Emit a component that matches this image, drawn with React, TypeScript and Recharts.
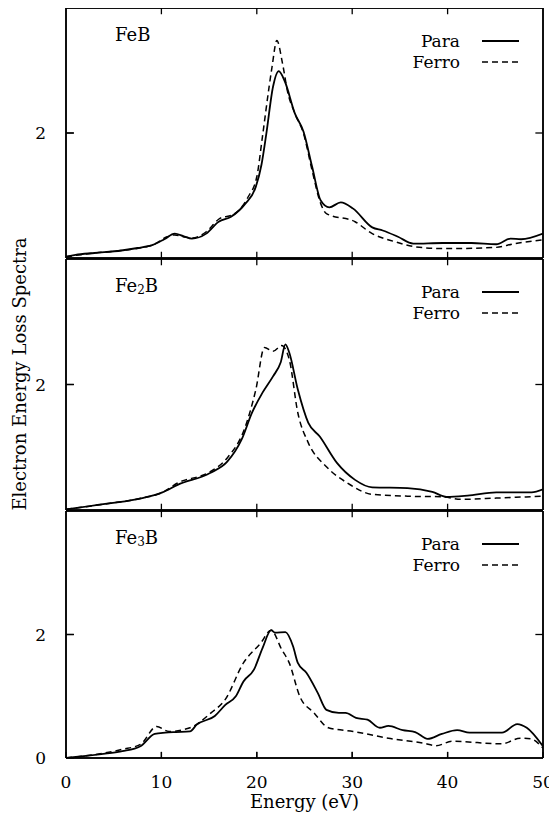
import React from "react";
import {
  LineChart,
  Line,
  XAxis,
  YAxis,
  ReferenceLine,
} from "recharts";

// FeB
const febParaEnergy = [0, 1, 3, 5.8, 7.5, 9.1, 10.3, 11.4, 12.3, 13.2, 14.7, 16, 17.3, 18.8, 19.9, 20.5, 21, 21.7, 22.3, 22.9, 24, 24.9, 25.8, 26.7, 27.6, 28.8, 30.1, 32.1, 33.2, 34.8, 36.4, 39.5, 42.5, 45.1, 46.6, 47.7, 50];
const febParaLoss = [0.02, 0.05, 0.08, 0.12, 0.16, 0.21, 0.3, 0.39, 0.35, 0.31, 0.39, 0.58, 0.66, 0.87, 1.14, 1.5, 1.99, 2.74, 2.99, 2.84, 2.31, 2.02, 1.46, 0.92, 0.81, 0.89, 0.79, 0.49, 0.44, 0.34, 0.23, 0.24, 0.24, 0.22, 0.31, 0.3, 0.39];
const febFerroEnergy = [0, 3, 5.8, 9.1, 10.6, 11.4, 12.3, 13.2, 14.7, 16, 17.7, 19.1, 20, 20.6, 21.3, 21.6, 22.1, 22.7, 23.2, 24, 24.9, 25.8, 26.7, 27.3, 30.3, 32.1, 34.5, 36.6, 39.5, 45.1, 47, 50];
const febFerroLoss = [0.02, 0.08, 0.12, 0.21, 0.34, 0.37, 0.34, 0.32, 0.42, 0.62, 0.71, 0.98, 1.3, 1.95, 2.75, 3.06, 3.48, 3.11, 2.68, 2.31, 1.99, 1.4, 0.87, 0.71, 0.58, 0.39, 0.26, 0.18, 0.15, 0.17, 0.23, 0.29];

// Fe2B
const fe2bParaEnergy = [0, 4.3, 8, 10.1, 11.7, 15.1, 16.9, 18.4, 19.5, 20.6, 21.7, 22.5, 23, 23.4, 24.3, 25.4, 26.6, 28.4, 30.3, 32.1, 35.8, 38.4, 39.9, 42.1, 45.1, 48.8, 50];
const fe2bParaLoss = [0.01, 0.1, 0.19, 0.28, 0.4, 0.59, 0.77, 1.12, 1.55, 1.87, 2.13, 2.35, 2.64, 2.51, 1.92, 1.39, 1.17, 0.75, 0.48, 0.36, 0.35, 0.29, 0.21, 0.23, 0.28, 0.28, 0.33];
const fe2bFerroEnergy = [0, 4.3, 8, 10.1, 11.7, 15.1, 16.9, 18.8, 19.9, 20.8, 21.7, 22.6, 23.4, 24.3, 25.4, 27.3, 29.5, 32.1, 35.8, 39.5, 41.4, 45.1, 50];
const fe2bFerroLoss = [0.01, 0.1, 0.19, 0.28, 0.43, 0.61, 0.83, 1.33, 1.92, 2.59, 2.53, 2.62, 2.4, 1.55, 1.07, 0.69, 0.43, 0.25, 0.22, 0.21, 0.17, 0.19, 0.22];

// Fe3B
const fe3bParaEnergy = [0, 4.1, 5.9, 7.8, 9.3, 10.4, 11.5, 13, 13.7, 15.6, 16.7, 17.8, 18.6, 19.7, 20.6, 21.5, 21.9, 23, 23.8, 24.3, 25.2, 26.4, 27.3, 28.6, 29.3, 30.4, 31.6, 32.9, 33.8, 35.3, 36.6, 37.9, 39.4, 41, 42.3, 45.7, 47.3, 48.3, 50];
const fe3bParaLoss = [0, 0.07, 0.11, 0.19, 0.39, 0.41, 0.42, 0.43, 0.54, 0.68, 0.86, 1.0, 1.24, 1.43, 1.78, 2.07, 2.03, 2.04, 1.81, 1.54, 1.38, 1.05, 0.78, 0.73, 0.73, 0.65, 0.62, 0.49, 0.52, 0.45, 0.42, 0.31, 0.39, 0.45, 0.41, 0.41, 0.55, 0.49, 0.19];
const fe3bFerroEnergy = [0, 5.9, 7.8, 9.5, 10.8, 13, 15.2, 16.7, 18.6, 20.4, 21.5, 22.6, 23.4, 24.5, 26, 27.5, 30.1, 33.8, 37.5, 38.8, 40.5, 45.7, 47.6, 48.7, 50];
const fe3bFerroLoss = [0, 0.14, 0.22, 0.51, 0.43, 0.49, 0.73, 0.95, 1.54, 1.86, 2.07, 1.76, 1.54, 1.0, 0.73, 0.49, 0.43, 0.32, 0.24, 0.2, 0.27, 0.23, 0.32, 0.31, 0.16];

const energyTicks = [0, 10, 20, 30, 40, 50];
const lossTicksUpper = [2];
const lossTicksBottom = [0, 2];
const seriesNames = ["Para", "Ferro"];

const E_MAX = 50;
const L_MAX = 4;
const FONT = "'DejaVu Serif', serif";
const WIDTH = 549;

const toPoints = (energy: number[], loss: number[]) =>
  energy.map((e, i) => ({ e, v: loss[i] }));

function EnergyTick(props: any) {
  const { x, y, payload } = props;
  return (
    <text
      x={x}
      y={y - 1}
      dy="0.71em"
      textAnchor="middle"
      fill="#000"
      fontSize={17}
      fontFamily={FONT}
    >
      {payload.value}
    </text>
  );
}

interface PanelProps {
  top: number;
  plotHeight: number;
  name: React.ReactNode;
  para: { e: number; v: number }[];
  ferro: { e: number; v: number }[];
  yTicks: number[];
  bottom?: boolean;
}

function Panel({ top, plotHeight, name, para, ferro, yTicks, bottom }: PanelProps) {
  const axisHeight = bottom ? 50 : 2;
  const marginBottom = bottom ? 8 : 0;
  const height = 2 + plotHeight + axisHeight + marginBottom;
  const tickStyle = { fill: "#000", fontSize: 17, fontFamily: FONT };
  const axisStroke = { stroke: "#000", strokeWidth: 1.5 };
  const tickStroke = { stroke: "#000", strokeWidth: 1.3 };
  // inward tick marks (gnuplot style) drawn in data units
  const xTickLen = 0.1;
  const yTickLen = 0.8;
  const frame = { stroke: "#000", strokeWidth: 1.5, ifOverflow: "visible" as const };
  const mark = { stroke: "#000", strokeWidth: 1.3, ifOverflow: "visible" as const };
  return (
    <div style={{ position: "absolute", left: 0, top, width: WIDTH, height }}>
      <LineChart
        width={WIDTH}
        height={height}
        margin={{ top: 0, right: 12, bottom: marginBottom, left: 0 }}
      >
        <XAxis
          type="number"
          dataKey="e"
          domain={[0, E_MAX]}
          ticks={energyTicks}
          allowDataOverflow
          height={axisHeight}
          axisLine={axisStroke}
          tickLine={tickStroke}
          tickSize={-6}
          tickMargin={25}
          tick={bottom ? <EnergyTick /> : false}
          label={
            bottom
              ? { value: "Energy (eV)", position: "insideBottom", offset: 0, fill: "#000", fontSize: 18, fontFamily: FONT }
              : undefined
          }
        />
        <XAxis
          xAxisId="top"
          orientation="top"
          type="number"
          dataKey="e"
          domain={[0, E_MAX]}
          ticks={energyTicks}
          allowDataOverflow
          height={2}
          axisLine={axisStroke}
          tickLine={tickStroke}
          tickSize={-6}
          tick={false}
        />
        <YAxis
          domain={[0, L_MAX]}
          ticks={yTicks}
          allowDataOverflow
          width={58}
          axisLine={axisStroke}
          tickLine={tickStroke}
          tickSize={-8}
          tickMargin={28}
          tick={tickStyle}
        />
        <YAxis
          yAxisId="right"
          orientation="right"
          domain={[0, L_MAX]}
          ticks={yTicks}
          allowDataOverflow
          width={2}
          axisLine={axisStroke}
          tickLine={tickStroke}
          tickSize={-8}
          tick={false}
        />
        <ReferenceLine x={0} {...frame} />
        <ReferenceLine x={E_MAX} {...frame} />
        <ReferenceLine y={0} {...frame} />
        <ReferenceLine y={L_MAX} {...frame} />
        {energyTicks.slice(1, -1).map((t) => (
          <ReferenceLine
            key={`b${t}`}
            segment={[{ x: t, y: 0 }, { x: t, y: xTickLen }]}
            {...mark}
          />
        ))}
        {energyTicks.slice(1, -1).map((t) => (
          <ReferenceLine
            key={`t${t}`}
            segment={[{ x: t, y: L_MAX - xTickLen }, { x: t, y: L_MAX }]}
            {...mark}
          />
        ))}
        {yTicks.filter((t) => t > 0).map((t) => (
          <ReferenceLine
            key={`l${t}`}
            segment={[{ x: 0, y: t }, { x: yTickLen, y: t }]}
            {...mark}
          />
        ))}
        {yTicks.filter((t) => t > 0).map((t) => (
          <ReferenceLine
            key={`r${t}`}
            segment={[{ x: E_MAX - yTickLen, y: t }, { x: E_MAX, y: t }]}
            {...mark}
          />
        ))}
        <Line
          data={ferro}
          dataKey="v"
          name={seriesNames[1]}
          type="monotone"
          stroke="#000"
          strokeWidth={1.5}
          strokeDasharray="6 4"
          dot={false}
          isAnimationActive={false}
        />
        <Line
          data={para}
          dataKey="v"
          name={seriesNames[0]}
          type="monotone"
          stroke="#000"
          strokeWidth={1.8}
          dot={false}
          isAnimationActive={false}
        />
      </LineChart>
      <div
        style={{
          position: "absolute",
          left: 107,
          top: 2 + 27 - 11,
          fontFamily: FONT,
          fontSize: 18,
          lineHeight: "22px",
          whiteSpace: "nowrap",
        }}
      >
        {name}
      </div>
      {seriesNames.map((s, i) => (
        <div
          key={s}
          style={{
            position: "absolute",
            left: 300,
            width: 211,
            top: 2 + 33 + i * 21 - 11,
            height: 22,
            display: "flex",
            alignItems: "center",
            justifyContent: "flex-end",
            fontFamily: FONT,
            fontSize: 17,
          }}
        >
          <span>{s}</span>
          <svg width={37} height={10} style={{ marginLeft: 22 }}>
            <line
              x1={0}
              x2={37}
              y1={5}
              y2={5}
              stroke="#000"
              strokeWidth={i === 0 ? 1.8 : 1.5}
              strokeDasharray={i === 0 ? undefined : "6 4"}
            />
          </svg>
        </div>
      ))}
    </div>
  );
}

export default function App() {
  return (
    <div style={{ position: "relative", width: WIDTH, height: 808 }}>
      <Panel
        top={-2}
        plotHeight={250}
        name="FeB"
        para={toPoints(febParaEnergy, febParaLoss)}
        ferro={toPoints(febFerroEnergy, febFerroLoss)}
        yTicks={lossTicksUpper}
      />
      <Panel
        top={249}
        plotHeight={251}
        name={<>Fe<sub style={{ fontSize: 12, verticalAlign: "-2px" }}>2</sub>B</>}
        para={toPoints(fe2bParaEnergy, fe2bParaLoss)}
        ferro={toPoints(fe2bFerroEnergy, fe2bFerroLoss)}
        yTicks={lossTicksUpper}
      />
      <Panel
        top={501}
        plotHeight={247}
        name={<>Fe<sub style={{ fontSize: 12, verticalAlign: "-2px" }}>3</sub>B</>}
        para={toPoints(fe3bParaEnergy, fe3bParaLoss)}
        ferro={toPoints(fe3bFerroEnergy, fe3bFerroLoss)}
        yTicks={lossTicksBottom}
        bottom
      />
      <div
        style={{
          position: "absolute",
          left: 12 - 160,
          top: 366 - 11,
          width: 320,
          height: 22,
          lineHeight: "22px",
          textAlign: "center",
          transform: "rotate(-90deg)",
          fontFamily: FONT,
          fontSize: 18,
          whiteSpace: "nowrap",
        }}
      >
        Electron Energy Loss Spectra
      </div>
    </div>
  );
}
